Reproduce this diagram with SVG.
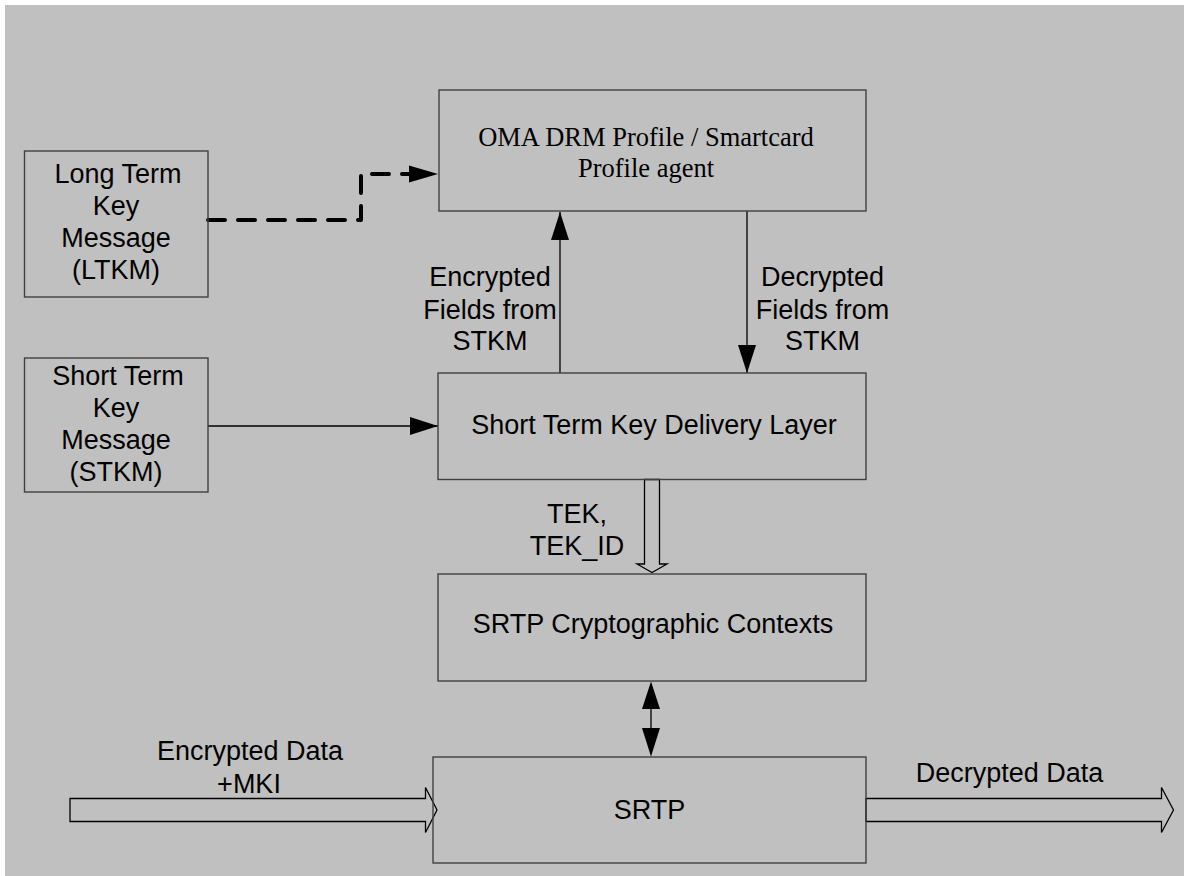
<svg xmlns="http://www.w3.org/2000/svg" width="1184" height="876" viewBox="0 0 1184 876">
<style>
.box{fill:none;stroke:#404040;stroke-width:1.4}
.t{font-family:"Liberation Sans",Arial,sans-serif;font-size:27px;fill:#000;text-anchor:middle}
.ts{font-family:"Liberation Serif","Times New Roman",serif;font-size:26.5px;fill:#000;text-anchor:middle}
.ln{fill:none;stroke:#000;stroke-width:1.3}
.dash{fill:none;stroke:#000;stroke-width:4;stroke-dasharray:17 13;stroke-linecap:round;stroke-linejoin:round}
.hollow{fill:#c0c0c0;stroke:#000;stroke-width:1.3;stroke-linejoin:miter}
</style>
<defs>
<marker id="ah" markerUnits="userSpaceOnUse" markerWidth="28" markerHeight="18" refX="28" refY="9" orient="auto" overflow="visible">
<path d="M0,0 L28,9 L0,18 z" fill="#000"/>
</marker>
</defs>
<rect x="0" y="0" width="1184" height="876" fill="#fff"/>
<rect x="5" y="5" width="1179" height="871" fill="#c0c0c0"/>

<g id="connectors">
<path class="dash" d="M208,220 L361,220 L361,174 L409,174"/>
<path d="M409,165.5 L438,174 L409,182.5 z" fill="#000"/>
<line class="ln" x1="208" y1="426" x2="438" y2="426" marker-end="url(#ah)"/>
<line class="ln" x1="560" y1="373" x2="560" y2="212" marker-end="url(#ah)"/>
<line class="ln" x1="747" y1="211" x2="747" y2="373" marker-end="url(#ah)"/>
<line class="ln" x1="651" y1="709" x2="651" y2="728"/>
<path d="M651,681.5 L660,709 L642,709 z" fill="#000"/>
<path d="M651,756.5 L660,728 L642,728 z" fill="#000"/>
<path class="hollow" d="M644.5,479.5 L644.5,564 L637,564 L652,572.5 L667,564 L659.5,564 L659.5,479.5 z"/>
<path class="hollow" d="M70,798.5 L425.5,798.5 L425.5,787.5 L437,810 L425.5,832.5 L425.5,821.5 L70,821.5 z"/>
<path class="hollow" d="M866,798.5 L1161.5,798.5 L1161.5,787.5 L1173.5,810 L1161.5,832.5 L1161.5,821.5 L866,821.5 z"/>
<text class="t" x="490" y="286">Encrypted</text>
<text class="t" x="490" y="318.5">Fields from</text>
<text class="t" x="490" y="350">STKM</text>
<text class="t" x="822.5" y="286">Decrypted</text>
<text class="t" x="822.5" y="318.5">Fields from</text>
<text class="t" x="822.5" y="350">STKM</text>
<text class="t" x="577" y="523">TEK,</text>
<text class="t" x="577" y="555">TEK_ID</text>
<text class="t" x="250" y="760">Encrypted Data</text>
<text class="t" x="249" y="792.5">+MKI</text>
<text class="t" x="1009.5" y="781.5">Decrypted Data</text>
</g>

<g id="ltkm">
<rect class="box" x="24.5" y="151" width="183.5" height="146"/>
<text class="t" x="118" y="183">Long Term</text>
<text class="t" x="116" y="215">Key</text>
<text class="t" x="116" y="247">Message</text>
<text class="t" x="116" y="279">(LTKM)</text>
</g>

<g id="stkm">
<rect class="box" x="24.5" y="358" width="183.5" height="134"/>
<text class="t" x="118" y="385">Short Term</text>
<text class="t" x="116" y="417">Key</text>
<text class="t" x="116" y="449">Message</text>
<text class="t" x="116" y="481">(STKM)</text>
</g>

<g id="oma">
<rect class="box" x="439" y="90" width="427" height="121"/>
<text class="ts" x="646" y="146">OMA DRM Profile / Smartcard</text>
<text class="ts" x="646" y="176.5">Profile agent</text>
</g>

<g id="stkdl">
<rect class="box" x="438" y="373" width="428" height="106.5"/>
<text class="t" x="654" y="434">Short Term Key Delivery Layer</text>
</g>

<g id="crypto">
<rect class="box" x="438" y="574" width="428" height="107"/>
<text class="t" x="653" y="633">SRTP Cryptographic Contexts</text>
</g>

<g id="srtp">
<rect class="box" x="433" y="757" width="433" height="106"/>
<text class="t" x="649.5" y="819">SRTP</text>
</g>
</svg>
